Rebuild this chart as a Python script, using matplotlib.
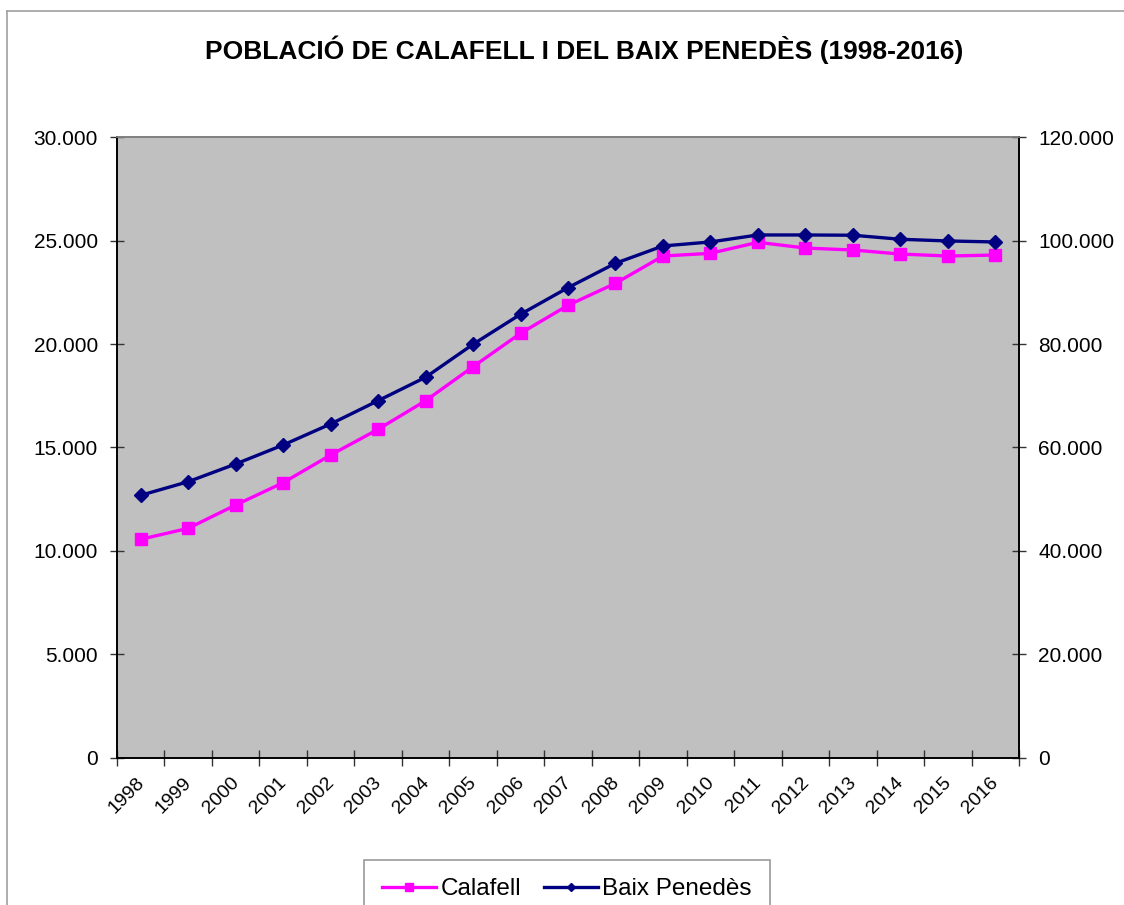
import matplotlib
matplotlib.use("Agg")
import matplotlib.pyplot as plt
import matplotlib.transforms as mtransforms
from matplotlib.ticker import FuncFormatter, FixedLocator, MultipleLocator, NullFormatter
from matplotlib.lines import Line2D

years = ["1998", "1999", "2000", "2001", "2002", "2003", "2004", "2005", "2006", "2007",
         "2008", "2009", "2010", "2011", "2012", "2013", "2014", "2015", "2016"]
calafell = [10554, 11086, 12213, 13292, 14632, 15875, 17258, 18903, 20518, 21873,
            22937, 24257, 24388, 24920, 24644, 24548, 24354, 24257, 24306]
baix_penedes = [50736, 53367, 56792, 60469, 64532, 69041, 73569, 79954, 85759, 90906,
                95628, 98975, 99749, 101104, 101104, 101050, 100272, 99943, 99749]

title = "POBLACIÓ DE CALAFELL I DEL BAIX PENEDÈS (1998-2016)"

plt.rcParams['font.family'] = ['Liberation Sans', 'DejaVu Sans']

W, H = 1124, 905
fig = plt.figure(figsize=(W / 100, H / 100), dpi=100)

# outer chart border (left and top visible)
fig.add_artist(Line2D([7 / W, 7 / W], [0, 1 - 11 / H], transform=fig.transFigure,
                      color="#a0a0a0", lw=1.2))
fig.add_artist(Line2D([7 / W, 1], [1 - 11 / H, 1 - 11 / H], transform=fig.transFigure,
                      color="#a0a0a0", lw=1.2))

left, right, top, bottom = 117, 1019, 137.3, 757.5
ax = fig.add_axes([left / W, 1 - bottom / H, (right - left) / W, (bottom - top) / H])
ax.set_facecolor("#C0C0C0")
ax2 = ax.twinx()

x = list(range(len(years)))
l1, = ax.plot(x, calafell, color="#FF00FF", lw=2.4, marker="s", ms=8.5,
              markeredgecolor="#FF00FF", label="Calafell", zorder=3)
l2, = ax2.plot(x, baix_penedes, color="#000080", lw=2.4, marker="D", ms=7,
               markeredgecolor="#000080", label="Baix Penedès", zorder=3)

ax.set_xlim(-0.5, len(years) - 0.5)
ax.set_ylim(0, 30000)
ax2.set_ylim(0, 120000)

fmt = FuncFormatter(lambda v, p: "0" if v == 0 else f"{int(v):,}".replace(",", "."))
ax.yaxis.set_major_locator(MultipleLocator(5000))
ax2.yaxis.set_major_locator(MultipleLocator(20000))
ax.yaxis.set_major_formatter(fmt)
ax2.yaxis.set_major_formatter(fmt)

# ticks at category boundaries, labels drawn at category centres
ax.xaxis.set_major_locator(FixedLocator([i - 0.5 for i in range(len(years) + 1)]))
ax.xaxis.set_major_formatter(NullFormatter())
ax.tick_params(axis="x", which="major", direction="inout", length=12, width=1, color="#333333")

lbl_tr = (mtransforms.blended_transform_factory(ax.transData, ax.transAxes)
          + mtransforms.ScaledTranslation(-5.2 / 100, -16.5 / 100, fig.dpi_scale_trans))
for i, yr in enumerate(years):
    ax.text(i, 0, yr, transform=lbl_tr, rotation=45, ha="right", va="top",
            rotation_mode="anchor", fontsize=14, clip_on=False)

ax.tick_params(axis="y", direction="inout", length=9.4, width=1, pad=9, labelsize=15,
               color="#333333")
ax2.tick_params(axis="y", direction="inout", length=9.4, width=1, pad=9, labelsize=15,
                color="#333333")

for a in (ax, ax2):
    a.spines["top"].set_color("#808080")
    a.spines["left"].set_color("black")
    a.spines["right"].set_color("black")
    a.spines["bottom"].set_color("black")
    for s in a.spines.values():
        s.set_linewidth(1.2)

fig.text(584 / W, 1 - 50 / H, title, ha="center", va="center", fontsize=19,
         fontweight="bold")

leg = fig.legend(handles=[l1, l2], loc="upper center", bbox_to_anchor=(567 / W, 1 - 860 / H),
                 ncol=2, fontsize=17.5, frameon=True, fancybox=False, edgecolor="#808080",
                 handlelength=2.2, handletextpad=0.2, columnspacing=0.95, borderpad=0.75,
                 markerscale=0.65, borderaxespad=0)
leg.get_frame().set_linewidth(1.2)

fig.savefig("out.png", dpi=100)
